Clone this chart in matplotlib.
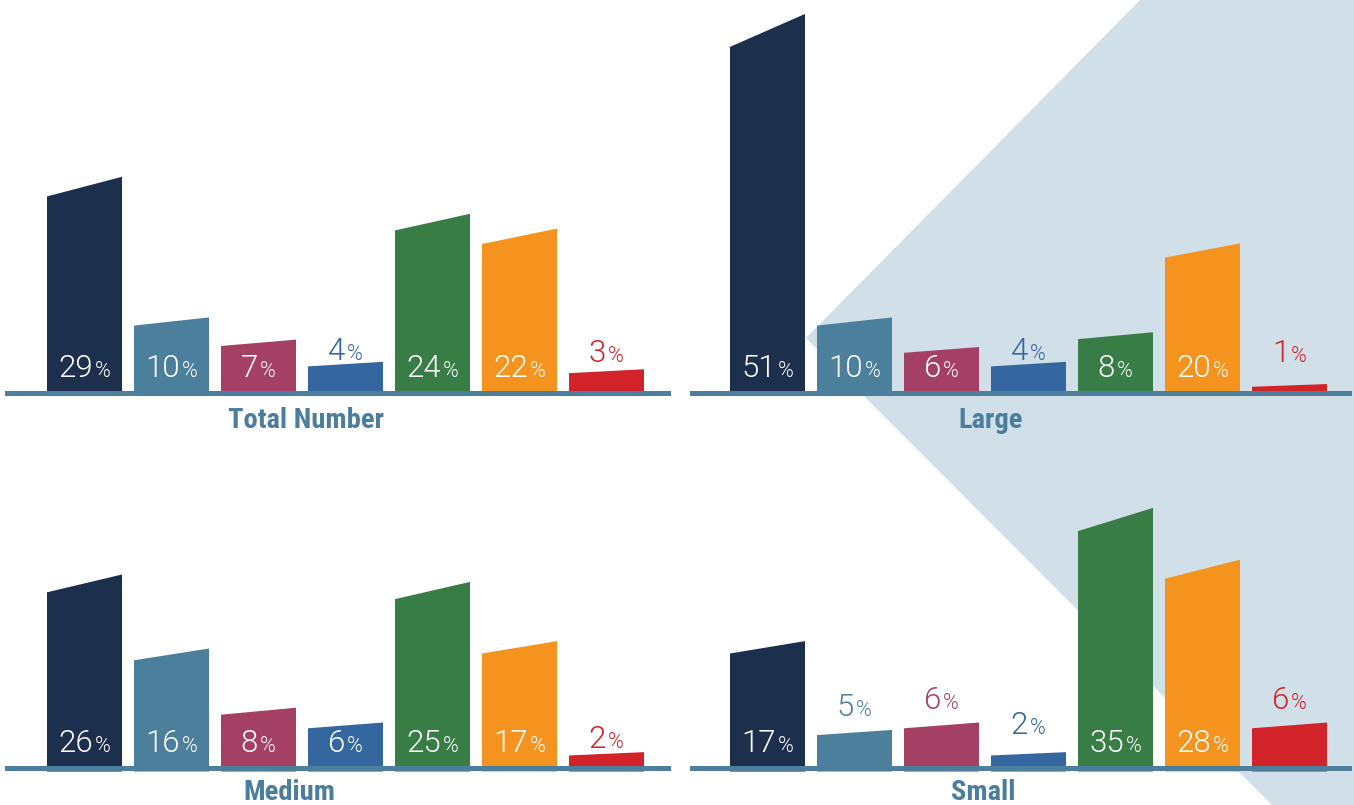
import matplotlib
matplotlib.use("Agg")
import matplotlib.pyplot as plt
from matplotlib.patches import Polygon
from matplotlib.offsetbox import TextArea, HPacker, AnnotationBbox
from matplotlib.font_manager import FontProperties

# data: share (%) per category, for each company size
panels = ["Total Number", "Large", "Medium", "Small"]
total_number = [29, 10, 7, 4, 24, 22, 3]
large = [51, 10, 6, 4, 8, 20, 1]
medium = [26, 16, 8, 6, 25, 17, 2]
small = [17, 5, 6, 2, 35, 28, 6]
values = [total_number, large, medium, small]

bar_colors = ["#1c2f4c", "#4b7f9c", "#a44063", "#3466a0", "#377d45", "#f5931f", "#d2232a"]
line_color = "#4d7f9c"
title_color = "#4a7e9c"
bg_color = "#d0dfe8"

W, H = 1354, 805
PX_PER_PCT = 7.1
SPACING = 87.0

fig = plt.figure(figsize=(W / 100, H / 100), dpi=100)
fig.patch.set_facecolor("white")

# light background wedge on the right
wedge = [(1140, 0), (1354, 0), (1354, 805), (1272, 805), (806, 338)]
fig.add_artist(Polygon([(x / W, 1 - y / H) for x, y in wedge], closed=True,
                       transform=fig.transFigure, facecolor=bg_color,
                       edgecolor="none", zorder=-5))

# panel layout in pixels: (line x0, line x1, first bar centre, top, bottom, baseline)
layout = [
    (5, 671, 84.5, 0, 440, 392.5),
    (690, 1352, 767.5, 0, 440, 392.5),
    (5, 671, 84.5, 440, 805, 768),
    (690, 1352, 767.5, 440, 805, 768),
]
title_x = [2.55, 2.57, 2.35, 2.48]
title_y = [-3.9, -3.9, -3.4, -3.4]
inside_min = [5, 5, 5, 7]   # smaller values get their label above the bar
outside_min = [4.3, 4.3, 2.8, 4.8]
outside_gap = [0.3, 0.3, 0.3, 1.9]

num_font = FontProperties(family="Roboto", weight=300, size=22.5)
pct_font = FontProperties(family="Roboto", weight=300, size=15.5)
title_font = FontProperties(family="Roboto Condensed", weight=700, size=20.5)
renderer = fig.canvas.get_renderer()
_, _, descent = renderer.get_text_width_height_descent("lp", num_font, ismath=False)
descent_pt = descent * 72 / fig.dpi

bar_w = 75 / SPACING

for k, vals in enumerate(values):
    x0, x1, c0, top, bottom, base = layout[k]
    ax = fig.add_axes([x0 / W, 1 - bottom / H, (x1 - x0) / W, (bottom - top) / H])
    ax.set_xlim((x0 - c0) / SPACING, (x1 - c0) / SPACING)
    ax.set_ylim(-(bottom - base) / PX_PER_PCT, (base - top) / PX_PER_PCT)
    ax.axis("off")
    ax.patch.set_alpha(0)

    for i, v in enumerate(vals):
        slant = 0.3 + 0.085 * v
        lt, rt = v - slant / 2, v + slant / 2
        ax.add_patch(Polygon([(i - bar_w / 2, -0.5), (i + bar_w / 2, -0.5),
                              (i + bar_w / 2, rt), (i - bar_w / 2, lt)],
                             closed=True, facecolor=bar_colors[i],
                             edgecolor="none", zorder=2))
        if v >= inside_min[k]:
            color, ly = "white", 2.2
        else:
            color, ly = bar_colors[i], max(rt + outside_gap[k], outside_min[k])
        box = HPacker(children=[
            TextArea(str(v), textprops=dict(color=color, fontproperties=num_font)),
            TextArea("%", textprops=dict(color=color, fontproperties=pct_font)),
        ], align="baseline", pad=0, sep=1.5)
        ab = AnnotationBbox(box, (i, ly), xybox=(0, -descent_pt),
                            boxcoords="offset points", xycoords="data",
                            box_alignment=(0.5, 0), frameon=False, pad=0)
        ab.set_zorder(4)
        ax.add_artist(ab)

    ax.axhline(0, color=line_color, linewidth=3.6, zorder=3)
    ax.text(title_x[k], title_y[k], panels[k], ha="center", va="center",
            color=title_color, fontproperties=title_font)

fig.savefig("out.png", dpi=100)
